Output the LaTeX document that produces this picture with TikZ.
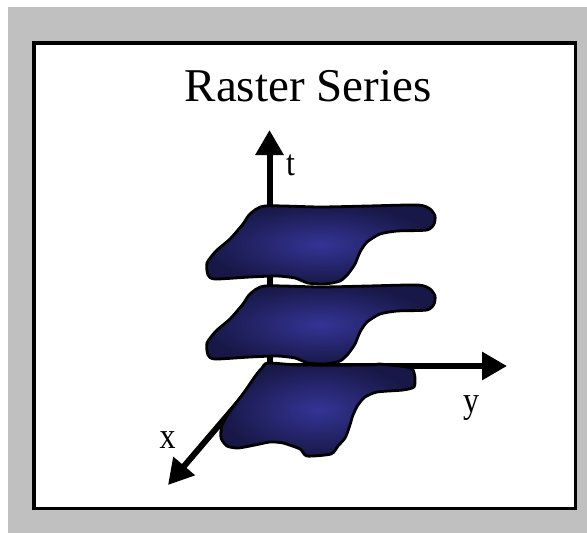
\documentclass[tikz,border=0pt]{standalone}
\usepackage{fontspec}
\setmainfont{Liberation Serif}
\usetikzlibrary{arrows.meta}
\definecolor{panelgray}{RGB}{192,192,192}
\definecolor{blobin}{RGB}{52,52,150}
\definecolor{blobout}{RGB}{24,24,72}
\begin{document}
\begin{tikzpicture}[x=1pt,y=-1pt,
  axis/.style={line width=6pt,-{Triangle[length=25pt,width=27pt]}},
  blob/.style={draw=black,line width=2.8pt,inner color=blobin,outer color=blobout},
  lab/.style={font=\fontsize{32}{32}\selectfont,inner sep=0pt},
  upperblob/.pic={
    \path[blob] plot[smooth cycle,tension=0.4] coordinates {
      (265,206) (320,207) (368,206) (418,205) (430,209) (435,216) (434,224)
      (427,230) (397,231) (380,234) (367,242) (360,252) (355,264) (348,274)
      (340,281) (325,284) (308,283) (295,278) (277,276) (250,277) (215,279)
      (208,275) (207,263) (216,251) (230,239) (243,224) (250,214)};
  }]
\useasboundingbox (0,0) rectangle (587,533);
\fill[panelgray] (8,7) rectangle (587,533);
\draw[fill=white,line width=3.5pt] (33.75,42.75) rectangle (575.25,508.25);
\node[anchor=base,inner sep=0pt,font=\fontsize{47}{47}\selectfont] (title) at (308,101) {Raster Series};
% axes
\coordinate (O) at (269.5,366);
\coordinate (T) at (269.5,130);
\coordinate (Y) at (507,366);
\coordinate (X) at (168,485);
\draw[axis] (O) -- (T);
\draw[axis] (O) -- (Y);
\draw[axis] (O) -- (X);
% rasters
\pic at (0,0) {upperblob};
\pic at (0,80) {upperblob};
\path[blob] plot[smooth cycle,tension=0.4] coordinates {
  (268,363) (300,365) (370,365) (379,364) (407,367) (413,370) (415,378)
  (414,387) (403,390) (377,392) (365,397) (358,405) (353,415) (349,428)
  (345,438) (338,446) (331,454) (307,456) (300,449) (283,443) (270,442)
  (255,445) (238,448) (227,446) (221,438) (222,425) (231,410)
  (245,391) (256,375) (262,368)};
% labels
\node[lab,anchor=base west] (tl) at (286,175) {\scalebox{1}[1.15]{t}};
\node[lab,anchor=base west] (yl) at (463,412) {\scalebox{1}[1.15]{y}};
\node[lab,anchor=base] (xl) at (167.5,448) {\scalebox{1}[1.15]{x}};
\end{tikzpicture}
\end{document}
